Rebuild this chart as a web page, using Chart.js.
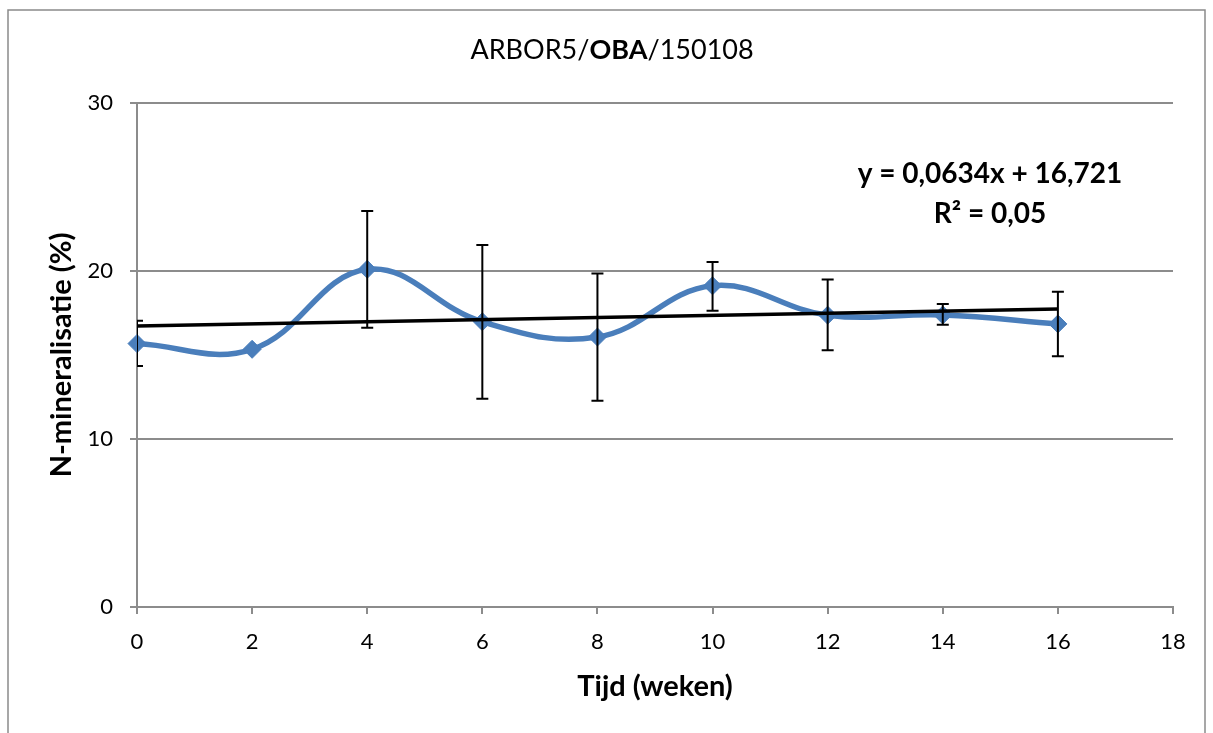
<!DOCTYPE html>
<html>
<head>
<meta charset="utf-8">
<title>ARBOR5/OBA/150108</title>
<script src="https://cdn.jsdelivr.net/npm/chart.js@4.4.0/dist/chart.umd.min.js"></script>
<style>
  body { margin: 0; background: #fff; }
</style>
</head>
<body>
<canvas id="nChart" width="1213" height="733"></canvas>
<script>
// data
const weeks = [0, 2, 4, 6, 8, 10, 12, 14, 16];
const nMineral = [15.68, 15.34, 20.1, 16.98, 16.07, 19.12, 17.37, 17.38, 16.85];
const errTop = [17.04, null, 23.57, 21.55, 19.85, 20.54, 19.5, 18.04, 18.76];
const errBottom = [14.34, null, 16.62, 12.4, 12.28, 17.63, 15.29, 16.8, 14.92];

// linear trendline, y = 0,0634x + 16,721
const trendWeeks = [0, 16];
const trendValues = [16.72, 17.74];

const xTicks = [0, 2, 4, 6, 8, 10, 12, 14, 16, 18];
const yTicks = [0, 10, 20, 30];

const titleParts = [['ARBOR5/', 'normal'], ['OBA', 'bold'], ['/150108', 'normal']];
const eqLines = ['y = 0,0634x + 16,721', 'R² = 0,05'];

const FONT = 'Lato, "Open Sans", sans-serif';
const gridGrey = '#8c8c8c';

Chart.defaults.font.family = FONT;
Chart.defaults.color = '#000';

// outer frame, title and the trendline equation
const framePlugin = {
  id: 'frame',
  beforeDraw(chart) {
    const ctx = chart.ctx;
    ctx.save();
    ctx.strokeStyle = '#8a8a8a';
    ctx.lineWidth = 1.5;
    ctx.strokeRect(8, 10, 1197, 740);
    ctx.restore();
  },
  afterDraw(chart) {
    const ctx = chart.ctx;
    ctx.save();
    ctx.textBaseline = 'middle';
    ctx.fillStyle = '#000';
    let total = 0;
    titleParts.forEach(([t, w]) => {
      ctx.font = w + ' 27px ' + FONT;
      total += ctx.measureText(t).width;
    });
    let x = 612 - total / 2;
    titleParts.forEach(([t, w]) => {
      ctx.font = w + ' 27px ' + FONT;
      ctx.fillText(t, x, 50);
      x += ctx.measureText(t).width;
    });

    ctx.font = 'bold 28px ' + FONT;
    ctx.textAlign = 'center';
    ctx.fillText(eqLines[0], 990, 174);
    ctx.fillText(eqLines[1], 990, 214);
    ctx.restore();
  }
};

// error bars, clipped to the plot area like the original
const errorBarPlugin = {
  id: 'errorBars',
  afterDatasetsDraw(chart) {
    const ctx = chart.ctx;
    const xs = chart.scales.x, ys = chart.scales.y;
    const a = chart.chartArea;
    ctx.save();
    ctx.beginPath();
    ctx.rect(a.left, a.top, a.right - a.left, a.bottom - a.top);
    ctx.clip();
    ctx.strokeStyle = '#000';
    ctx.lineWidth = 2;
    weeks.forEach((w, i) => {
      if (errTop[i] == null) return;
      const px = xs.getPixelForValue(w);
      const yt = ys.getPixelForValue(errTop[i]);
      const yb = ys.getPixelForValue(errBottom[i]);
      ctx.beginPath();
      ctx.moveTo(px, yt); ctx.lineTo(px, yb);
      ctx.moveTo(px - 6, yt); ctx.lineTo(px + 6, yt);
      ctx.moveTo(px - 6, yb); ctx.lineTo(px + 6, yb);
      ctx.stroke();
    });
    ctx.restore();
  }
};

const ctx = document.getElementById('nChart');
new Chart(ctx, {
  type: 'line',
  data: {
    datasets: [
      {
        label: 'Lineair',
        data: trendWeeks.map((w, i) => ({ x: w, y: trendValues[i] })),
        borderColor: '#000',
        borderWidth: 3.5,
        pointRadius: 0,
        tension: 0,
        order: 0
      },
      {
        label: 'N-mineralisatie',
        data: weeks.map((w, i) => ({ x: w, y: nMineral[i] })),
        borderColor: '#4a7ebb',
        backgroundColor: '#4a7ebb',
        borderWidth: 5.5,
        pointStyle: 'rectRot',
        pointRadius: 9,
        pointBorderWidth: 1,
        tension: 0.4,
        clip: false,
        order: 1
      }
    ]
  },
  options: {
    responsive: false,
    animation: false,
    layout: { padding: { top: 103, right: 40, left: 0, bottom: 0 } },
    plugins: {
      legend: { display: false },
      tooltip: { enabled: false }
    },
    scales: {
      x: {
        type: 'linear',
        min: 0,
        max: 18,
        afterBuildTicks: s => { s.ticks = xTicks.map(v => ({ value: v })); },
        afterFit: s => { s.height = 126; },
        grid: { drawOnChartArea: false, color: gridGrey, lineWidth: 2, tickLength: 7 },
        border: { color: gridGrey, width: 2 },
        ticks: { font: { size: 22 }, padding: 15, maxRotation: 0 },
        title: {
          display: true,
          text: 'Tijd (weken)',
          font: { size: 29, weight: 'bold' },
          padding: { bottom: 29 }
        }
      },
      y: {
        min: 0,
        max: 30,
        afterBuildTicks: s => { s.ticks = yTicks.map(v => ({ value: v })); },
        afterFit: s => { s.width = 137; },
        grid: { color: gridGrey, lineWidth: 2, tickLength: 7 },
        border: { color: gridGrey, width: 2 },
        ticks: { font: { size: 22 }, padding: 17 },
        title: {
          display: true,
          text: 'N-mineralisatie (%)',
          font: { size: 29, weight: 'bold' },
          padding: { top: 44 }
        }
      }
    }
  },
  plugins: [framePlugin, errorBarPlugin]
});
</script>
</body>
</html>
